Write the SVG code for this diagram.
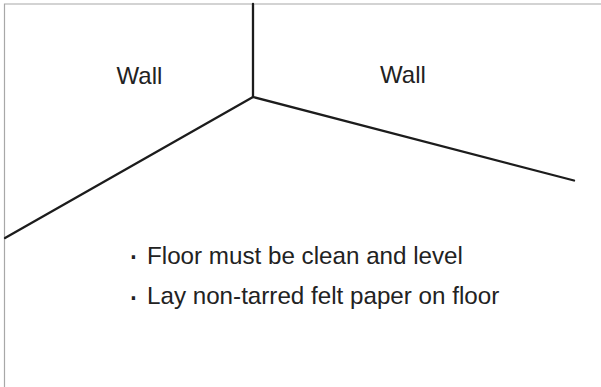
<svg xmlns="http://www.w3.org/2000/svg" width="601" height="387" viewBox="0 0 601 387">
<style>
.t{font-family:"Liberation Sans",Arial,sans-serif;fill:#222}
.w{font-size:24px;text-anchor:middle}
.b{font-size:24.2px}
.d{font-family:"DejaVu Sans",sans-serif;font-size:31px;text-anchor:middle}
.l{fill:none;stroke:#1c1c1c;stroke-width:2.3;stroke-linecap:round;stroke-linejoin:round}
</style>
<rect width="601" height="387" fill="#fff"/>
<path d="M4.500 387V4H601" fill="none" stroke="#a8a8a8" stroke-width="1.2"/>
<g id="connectors">
<path class="l" d="M253 4V97"/>
<path class="l" d="M253 97L5 238"/>
<path class="l" d="M253 97L574 180.500"/>
</g>
<g id="wall-left"><text class="t w" x="139.500" y="84">Wall</text></g>
<g id="wall-right"><text class="t w" x="403" y="83">Wall</text></g>
<g id="notes">
<text class="t d" x="133.500" y="267.500">·</text>
<text class="t b" x="147" y="264">Floor must be clean and level</text>
<text class="t d" x="133.500" y="308.500">·</text>
<text class="t b" x="147" y="304">Lay non-tarred felt paper on floor</text>
</g>
</svg>
